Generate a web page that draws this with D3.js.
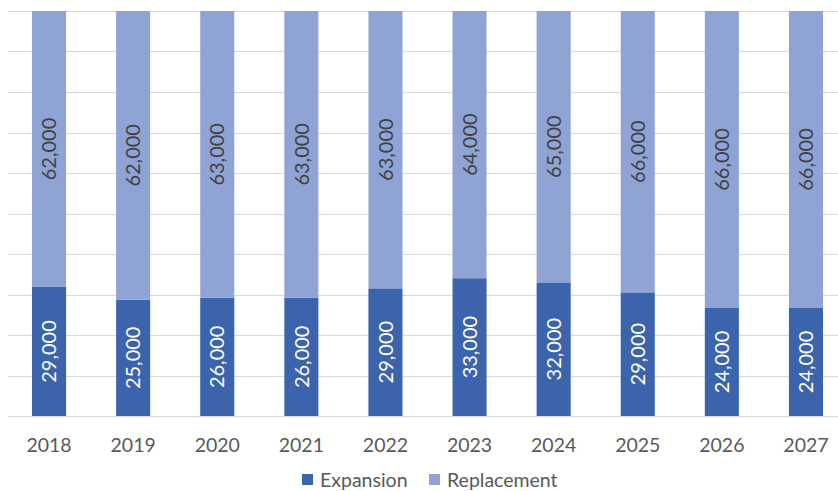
<!DOCTYPE html>
<html>
<head>
<meta charset="utf-8">
<script src="https://cdn.jsdelivr.net/npm/d3@7"></script>
<style>
  html, body { margin: 0; padding: 0; background: #fff; }
  svg { display: block; font-family: Lato, "Open Sans", "Liberation Sans", sans-serif; }
</style>
</head>
<body>
<svg id="chart" width="838" height="491"></svg>
<script>
// Jobs per year, split into expansion and replacement demand
const years = ["2018", "2019", "2020", "2021", "2022", "2023", "2024", "2025", "2026", "2027"];
const expansion = [29000, 25000, 26000, 26000, 29000, 33000, 32000, 29000, 24000, 24000];
const replacement = [62000, 62000, 63000, 63000, 63000, 64000, 65000, 66000, 66000, 66000];
const seriesNames = ["Expansion", "Replacement"];
const seriesColors = ["#3B64AD", "#8FA4D5"];
const gridTicks = [0, 0.1, 0.2, 0.3, 0.4, 0.5, 0.6, 0.7, 0.8, 0.9, 1];

const svg = d3.select("#chart");
const margin = { left: 7, right: -10, top: 11, bottom: 75 };
const W = 838, H = 491;

const rows = years.map((y, i) => ({ year: y, Expansion: expansion[i], Replacement: replacement[i] }));
const stacked = d3.stack().keys(seriesNames).offset(d3.stackOffsetExpand)(rows);

const x = d3.scaleBand().domain(years).range([margin.left, W - margin.right]).paddingInner(0.595).paddingOuter(0.2975);
const y = d3.scaleLinear().domain([0, 1]).range([H - margin.bottom, margin.top]);
const color = d3.scaleOrdinal().domain(seriesNames).range(seriesColors);

// horizontal gridlines
svg.append("g").selectAll("line").data(gridTicks).join("line")
  .attr("x1", 8).attr("x2", W)
  .attr("y1", d => Math.round(y(d)) + 0.5).attr("y2", d => Math.round(y(d)) + 0.5)
  .attr("stroke", "#D9D9D9").attr("stroke-width", 1);

// stacked bars
const layers = svg.append("g").selectAll("g").data(stacked).join("g")
  .attr("fill", d => color(d.key));
layers.selectAll("rect").data(d => d).join("rect")
  .attr("x", d => x(d.data.year))
  .attr("width", x.bandwidth())
  .attr("y", d => y(d[1]))
  .attr("height", d => y(d[0]) - y(d[1]));

// rotated value labels inside each segment
const fmt = d3.format(",");
stacked.forEach(layer => {
  svg.append("g").selectAll("text").data(layer).join("text")
    .attr("transform", d => {
      const cx = x(d.data.year) + x.bandwidth() / 2;
      const cy = (y(d[0]) + y(d[1])) / 2;
      return `translate(${cx},${cy}) rotate(-90)`;
    })
    .attr("text-anchor", "middle")
    .attr("dy", "0.36em")
    .attr("font-size", 20)
    .attr("fill", layer.key === "Expansion" ? "#FFFFFF" : "#404040")
    .text(d => fmt(d.data[layer.key]));
});

// category axis labels
const xAxis = d3.axisBottom(x).tickSize(0).tickPadding(22);
const gx = svg.append("g").attr("transform", `translate(0,${y(0)})`).call(xAxis);
gx.select(".domain").remove();
gx.selectAll("text").attr("font-size", 19.5).attr("fill", "#595959")
  .attr("font-family", "Lato, 'Open Sans', 'Liberation Sans', sans-serif");

// legend
const legendItems = [
  { name: "Expansion", x: 302 },
  { name: "Replacement", x: 429 }
];
const legend = svg.append("g").selectAll("g").data(legendItems).join("g")
  .attr("transform", d => `translate(${d.x},474)`);
legend.append("rect").attr("width", 11).attr("height", 11).attr("fill", d => color(d.name));
legend.append("text").attr("x", 18).attr("y", 6).attr("dy", "0.36em")
  .attr("font-size", 19.5).attr("fill", "#595959").text(d => d.name);
</script>
</body>
</html>
